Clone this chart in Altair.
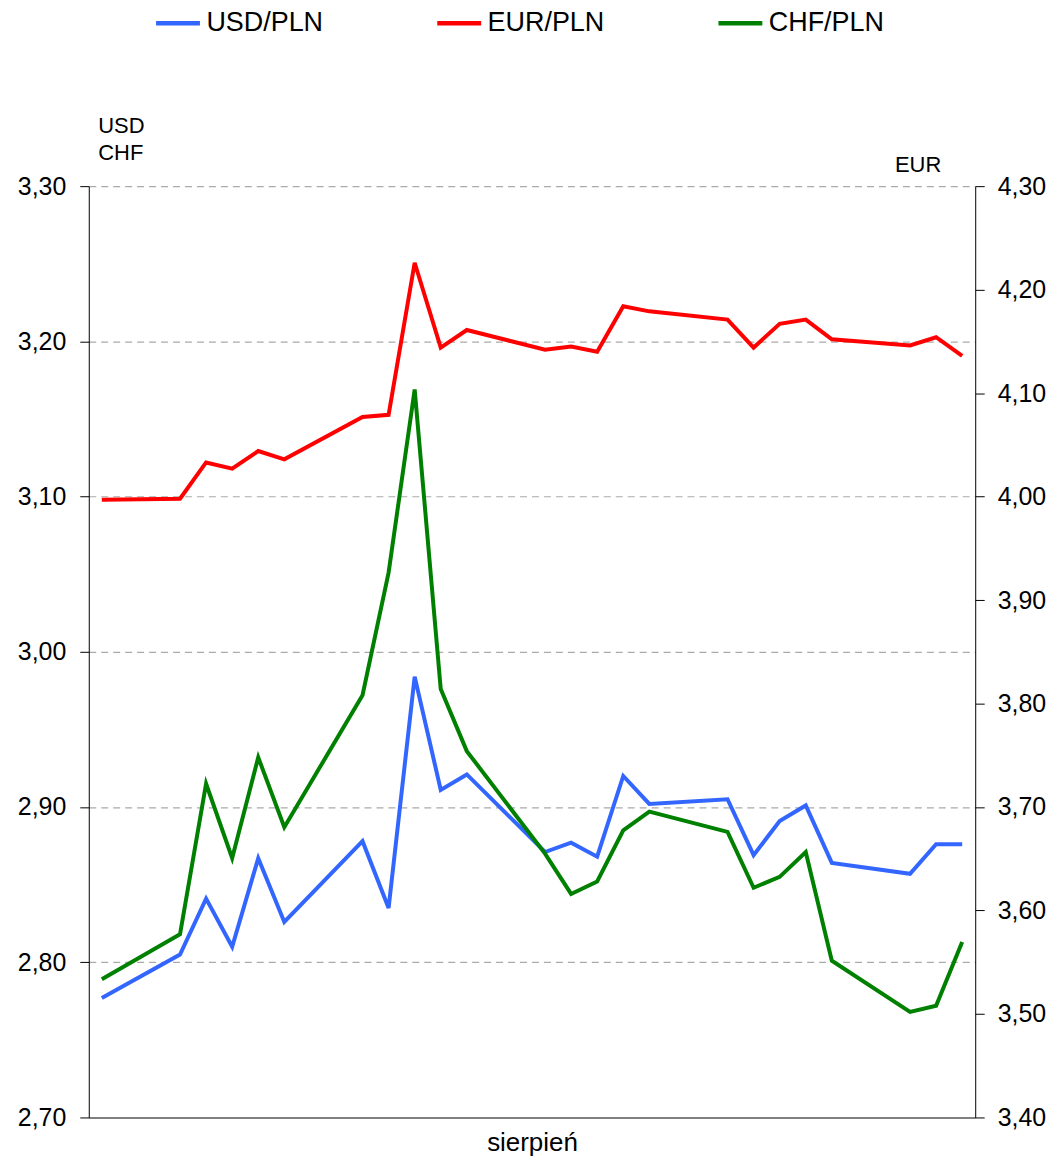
import altair as alt
import pandas as pd

# trading days in the month (day offsets from the first fixing)
days = [0, 3, 4, 5, 6, 7, 10, 11, 12, 13, 14, 17, 18, 19, 20, 21, 24, 25, 26, 27, 28, 31, 32, 33]

usd = [2.777, 2.805, 2.841, 2.810, 2.867, 2.826, 2.878, 2.835, 2.984, 2.911, 2.921,
       2.871, 2.877, 2.868, 2.920, 2.902, 2.905, 2.869, 2.891, 2.901, 2.864,
       2.857, 2.876, 2.876]
eur = [3.997, 3.998, 4.033, 4.027, 4.044, 4.036, 4.077, 4.079, 4.226, 4.144, 4.161,
       4.142, 4.145, 4.140, 4.184, 4.179, 4.171, 4.144, 4.167, 4.171, 4.152,
       4.146, 4.154, 4.136]
chf = [2.789, 2.818, 2.915, 2.867, 2.932, 2.887, 2.972, 3.051, 3.169, 2.976, 2.936,
       2.870, 2.844, 2.852, 2.885, 2.897, 2.884, 2.848, 2.855, 2.871, 2.801,
       2.768, 2.772, 2.813]

series_names = ["USD/PLN", "EUR/PLN", "CHF/PLN"]
colors = ["#3366ff", "#ff0000", "#008000"]

left_ticks = [2.70, 2.80, 2.90, 3.00, 3.10, 3.20, 3.30]
right_ticks = [3.40, 3.50, 3.60, 3.70, 3.80, 3.90, 4.00, 4.10, 4.20, 4.30]

rows = []
for name, vals in zip(series_names, [usd, eur, chf]):
    for d, v in zip(days, vals):
        rows.append({"day": d, "series": name, "value": v})
df = pd.DataFrame(rows)

FONT = "Liberation Sans"
label_expr = "replace(format(datum.value, '.2f'), '.', ',')"

legend = alt.Legend(
    title=None, orient="none", legendX=65, legendY=-188, direction="horizontal",
    symbolType="stroke", symbolSize=1936, symbolStrokeWidth=4.5,
    labelFontSize=27, labelOffset=4, columnPadding=104, labelFont=FONT,
    labelColor="black", padding=0,
)
color = alt.Color("series:N", scale=alt.Scale(domain=series_names, range=colors), legend=legend)

x = alt.X(
    "day:Q",
    scale=alt.Scale(domain=[-0.5, 33.5], nice=False, zero=False),
    axis=alt.Axis(
        title="sierpień", labels=False, ticks=False, grid=False,
        domainColor="#808080", domainWidth=2, titleFontSize=26,
        titleFontWeight="normal", titlePadding=12, titleColor="black", titleFont=FONT,
    ),
)

left = (
    alt.Chart(df)
    .transform_filter(alt.FieldOneOfPredicate(field="series", oneOf=["USD/PLN", "CHF/PLN"]))
    .mark_line(strokeWidth=4)
    .encode(
        x=x,
        y=alt.Y(
            "value:Q",
            scale=alt.Scale(domain=[2.70, 3.30], nice=False, zero=False),
            axis=alt.Axis(
                orient="left", values=left_ticks, labelExpr=label_expr,
                grid=True, gridDash=[7, 5], gridColor="#aaaaaa", gridWidth=1.2,
                tickSize=9, tickColor="black", domainColor="black", domainWidth=1,
                labelFontSize=25, labelPadding=14, labelColor="black", labelFont=FONT,
                title=["USD", "CHF"], titleAngle=0, titleX=9, titleY=-54,
                titleAlign="left", titleBaseline="alphabetic", titleFontSize=22,
                titleFontWeight="normal", titleLineHeight=27.6, titleColor="black",
                titleFont=FONT,
            ),
        ),
        color=color,
    )
)

right = (
    alt.Chart(df)
    .transform_filter(alt.FieldEqualPredicate(field="series", equal="EUR/PLN"))
    .mark_line(strokeWidth=4)
    .encode(
        x=x,
        y=alt.Y(
            "value:Q",
            scale=alt.Scale(domain=[3.40, 4.30], nice=False, zero=False),
            axis=alt.Axis(
                orient="right", values=right_ticks, labelExpr=label_expr,
                grid=False, tickSize=9, tickColor="black", domainColor="black",
                domainWidth=1, labelFontSize=25, labelPadding=13, labelColor="black",
                labelFont=FONT, title="EUR", titleAngle=0, titleX=-81, titleY=-15,
                titleAlign="left", titleBaseline="alphabetic", titleFontSize=22,
                titleFontWeight="normal", titleColor="black", titleFont=FONT,
            ),
        ),
        color=color,
    )
)

chart = (
    alt.layer(left, right)
    .resolve_scale(y="independent")
    .properties(
        width=889, height=934,
        padding={"left": 81, "top": 177, "right": 75, "bottom": 40},
        autosize=alt.AutoSizeParams(type="none"),
        background="white",
    )
    .configure_view(stroke=None)
)

chart.save("out.html", embed_options={"renderer": "svg", "actions": False})
